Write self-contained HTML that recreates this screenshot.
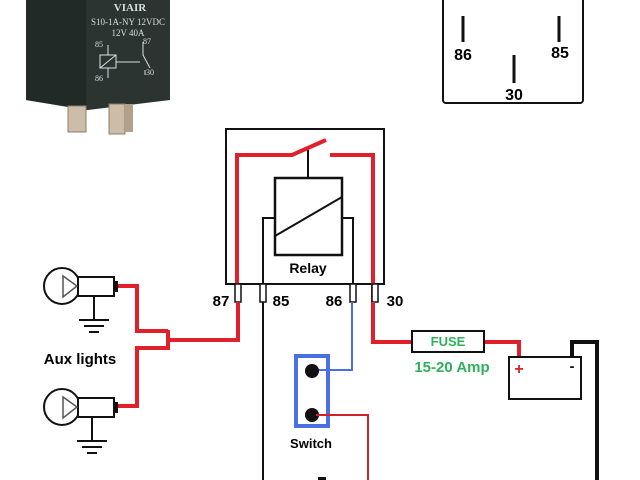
<!DOCTYPE html>
<html><head><meta charset="utf-8"><style>
html,body{margin:0;padding:0;background:#fff;}
svg{display:block;}
text{font-family:"Liberation Sans",Arial,sans-serif;font-weight:bold;}
</style></head><body>
<svg width="640" height="480" viewBox="0 0 640 480" xmlns="http://www.w3.org/2000/svg">
<rect width="640" height="480" fill="#fff"/>
<!-- relay photo -->
<polygon points="26,0 170,0 170,100 88,110 26,100" fill="#2c3432"/>
<polygon points="26,0 86,0 86,110 26,100" fill="#222a28"/>
<rect x="68" y="106" width="18" height="26" fill="#cdbda8" stroke="#8a7c6a"/>
<rect x="109" y="104" width="16" height="30" fill="#cdbda8" stroke="#8a7c6a"/>
<rect x="125" y="104" width="8" height="28" fill="#b0a08c"/>
<text x="130" y="11" fill="#d8dede" font-size="11" text-anchor="middle" style="font-family:'Liberation Serif'">VIAIR</text>
<text x="128" y="25" fill="#d8dede" font-size="9" text-anchor="middle" style="font-weight:normal;font-family:'Liberation Serif'">S10-1A-NY 12VDC</text>
<text x="128" y="36" fill="#d8dede" font-size="9" text-anchor="middle" style="font-weight:normal;font-family:'Liberation Serif'">12V 40A</text>
<text x="95" y="47" fill="#d8dede" font-size="8" style="font-weight:normal;font-family:'Liberation Serif'">85</text>
<text x="95" y="81" fill="#d8dede" font-size="8" style="font-weight:normal;font-family:'Liberation Serif'">86</text>
<text x="143" y="44" fill="#d8dede" font-size="8" style="font-weight:normal;font-family:'Liberation Serif'">87</text>
<text x="146" y="75" fill="#d8dede" font-size="8" style="font-weight:normal;font-family:'Liberation Serif'">30</text>
<rect x="100" y="55" width="16" height="13" fill="none" stroke="#d8dede"/>
<line x1="100" y1="68" x2="116" y2="55" stroke="#d8dede"/>
<path d="M108,45 V55 M108,68 V78 M116,62 H140 M143,42 V55 L150,68 M145,70 V75" stroke="#d8dede" fill="none"/>
<!-- pinout box -->
<rect x="443" y="-6" width="140" height="109" rx="3" fill="none" stroke="#111" stroke-width="2"/>
<path d="M463,16 V42 M559,16 V42 M514,55 V83" stroke="#111" stroke-width="3"/>
<text x="463" y="60" font-size="16" text-anchor="middle">86</text>
<text x="560" y="58" font-size="16" text-anchor="middle">85</text>
<text x="514" y="100" font-size="16" text-anchor="middle">30</text>
<!-- relay -->
<rect x="226" y="129" width="158" height="155" fill="none" stroke="#111" stroke-width="2"/>
<rect x="275" y="178" width="67" height="77" fill="none" stroke="#111" stroke-width="2.5"/>
<line x1="275" y1="236" x2="342" y2="197" stroke="#111" stroke-width="2"/>
<path d="M263,302 V218 H275 M353,302 V218 H342" fill="none" stroke="#111" stroke-width="2"/>
<line x1="308" y1="150" x2="308" y2="178" stroke="#111" stroke-width="2"/>
<path d="M237,302 V155 H292 L326,140" fill="none" stroke="#e0202a" stroke-width="4"/>
<path d="M330,155 H373 V302" fill="none" stroke="#e0202a" stroke-width="4"/>
<text x="308" y="273" font-size="14" text-anchor="middle">Relay</text>
<g fill="#fff" stroke="#111" stroke-width="1.5">
<rect x="235" y="284" width="6" height="18"/>
<rect x="260" y="284" width="6" height="18"/>
<rect x="350" y="284" width="6" height="18"/>
<rect x="372" y="284" width="6" height="18"/>
</g>
<text x="221" y="306" font-size="15" text-anchor="middle">87</text>
<text x="281" y="306" font-size="15" text-anchor="middle">85</text>
<text x="334" y="306" font-size="15" text-anchor="middle">86</text>
<text x="395" y="306" font-size="15" text-anchor="middle">30</text>
<!-- wires -->
<line x1="263" y1="302" x2="263" y2="480" stroke="#111" stroke-width="2"/>
<path d="M238,302 V340 H168" fill="none" stroke="#e0202a" stroke-width="4"/>
<path d="M168,330 V350 M168,331 H137 V286 H117 M168,348 H137 V406 H117" fill="none" stroke="#e0202a" stroke-width="4"/>
<!-- lamps -->
<g stroke="#111" stroke-width="2" fill="#fff">
<circle cx="62" cy="286" r="18"/>
<rect x="78" y="277" width="36" height="19"/>
<circle cx="62" cy="407" r="18"/>
<rect x="78" y="398" width="36" height="19"/>
</g>
<path d="M63,276 V297 L77,286 Z M63,397 V418 L77,407 Z" fill="#fff" stroke="#555" stroke-width="1.5"/>
<rect x="114" y="281" width="4" height="11" fill="#111"/>
<rect x="114" y="402" width="4" height="11" fill="#111"/>
<path d="M94,296 V320 M79,320 H109 M84,326 H104 M89,332 H99 M92,417 V441 M77,441 H107 M82,447 H102 M87,453 H97" stroke="#111" stroke-width="2"/>
<text x="80" y="364" font-size="15" text-anchor="middle">Aux lights</text>
<!-- switch -->
<path d="M352,302 V370 H312" fill="none" stroke="#4a6fe0" stroke-width="2"/>
<rect x="296" y="356" width="32" height="70" fill="none" stroke="#4a6fe0" stroke-width="4"/>
<circle cx="312" cy="371" r="7" fill="#111"/>
<circle cx="312" cy="415" r="7" fill="#111"/>
<path d="M316,415 H368 V480" fill="none" stroke="#d0202a" stroke-width="2"/>
<text x="311" y="448" font-size="13" text-anchor="middle">Switch</text>
<!-- fuse and battery -->
<path d="M373,302 V342 H412 M484,342 H519 V358" fill="none" stroke="#e0202a" stroke-width="4"/>
<rect x="412" y="331" width="72" height="21" fill="#fff" stroke="#111" stroke-width="2"/>
<text x="448" y="346" font-size="13" fill="#2fb05a" text-anchor="middle">FUSE</text>
<text x="452" y="372" font-size="15" fill="#2fb05a" text-anchor="middle">15-20 Amp</text>
<rect x="509" y="357" width="72" height="42" fill="#fff" stroke="#111" stroke-width="2"/>
<path d="M572,357 V342 H597 V480" fill="none" stroke="#111" stroke-width="4"/>
<text x="519" y="374" font-size="16" fill="#e0202a" text-anchor="middle">+</text>
<text x="572" y="371" font-size="15" fill="#111" text-anchor="middle">-</text>
<rect x="318" y="477" width="8" height="3" fill="#111"/>
</svg>
</body></html>
